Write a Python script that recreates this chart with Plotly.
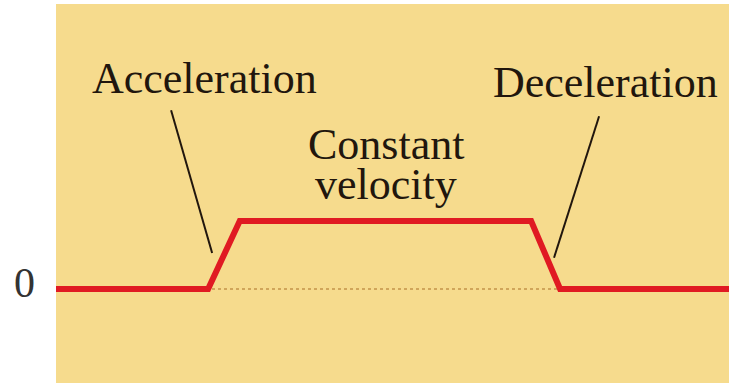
"""Velocity against time: speed up, cruise, slow down. A teaching sketch, not a dataset."""

from __future__ import annotations

import plotly.graph_objects as go

# The velocity profile. Time in arbitrary units, velocity in
# units of the cruising speed.
TIME = [0.0, 2.26, 2.73, 7.06, 7.49, 10.0]
VELOCITY = [0.0, 0.0, 1.0, 1.0, 0.0, 0.0]

ZERO_TEXT = "0"

# Phase labels and where their pointer lines land on the curve.
LABELS = ["Acceleration", "Constant", "velocity", "Deceleration"]
LABEL_X = [2.21, 4.90, 4.90, 8.17]
LABEL_Y = [3.09, 2.13, 1.54, 3.03]

POINTER_FROM = [(1.71, 2.63), (8.07, 2.54)]
POINTER_TO = [(2.32, 0.53), (7.40, 0.46)]

PANEL = "#F6DB8D"
RED = "#E01A22"
INK = "#21160D"
FONT = "Liberation Serif, Times New Roman, serif"

W, H = 729, 388

# The browser's default body margin would push the figure 8px in; drop it.
NO_MARGIN = (
    "document.body.style.margin='0';"
    "document.body.style.overflow='hidden';"
)


def build() -> go.Figure:
    fig = go.Figure()

    fig.add_scatter(
        x=TIME,
        y=VELOCITY,
        mode="lines",
        line=dict(color=RED, width=6),
        hoverinfo="skip",
        showlegend=False,
    )

    # Faint zero line under the raised section.
    fig.add_shape(
        type="line",
        x0=TIME[0],
        x1=TIME[-1],
        y0=0,
        y1=0,
        line=dict(color="#C4944A", width=1.5, dash="dot"),
        layer="below",
    )

    for (x0, y0), (x1, y1) in zip(POINTER_FROM, POINTER_TO):
        fig.add_shape(
            type="line",
            x0=x0,
            y0=y0,
            x1=x1,
            y1=y1,
            line=dict(color=INK, width=2),
        )

    for text, x, y in zip(LABELS, LABEL_X, LABEL_Y):
        fig.add_annotation(
            x=x,
            y=y,
            text=text,
            showarrow=False,
            xanchor="center",
            yanchor="middle",
            font=dict(family=FONT, size=44, color=INK),
        )

    # The zero label sits off the panel, to the left.
    fig.add_annotation(
        xref="paper",
        x=24 / W,
        y=0.09,
        text=ZERO_TEXT,
        showarrow=False,
        xanchor="center",
        yanchor="middle",
        font=dict(family=FONT, size=42, color="#333333"),
    )

    fig.update_layout(
        width=W,
        height=H,
        margin=dict(l=0, r=0, t=0, b=0),
        paper_bgcolor="white",
        plot_bgcolor=PANEL,
        showlegend=False,
        xaxis=dict(
            domain=[56 / W, 1],
            range=[0, 10],
            showgrid=False,
            zeroline=False,
            showticklabels=False,
            ticks="",
            fixedrange=True,
        ),
        yaxis=dict(
            domain=[5 / H, 384 / H],
            range=[-1.382, 4.191],
            showgrid=False,
            zeroline=False,
            showticklabels=False,
            ticks="",
            fixedrange=True,
        ),
    )
    return fig


fig = build()
fig.write_html(
    "out.html",
    post_script=NO_MARGIN,
    config={"displayModeBar": False},
)
